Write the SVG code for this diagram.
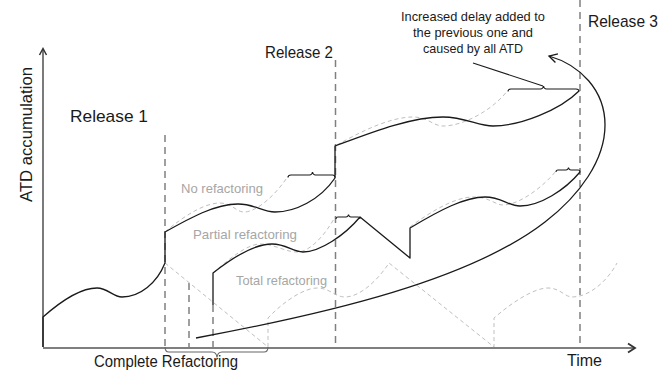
<svg xmlns="http://www.w3.org/2000/svg" width="671" height="371" viewBox="0 0 671 371">
  <style>
    .lbl { font-family: "Liberation Sans", "Open Sans", sans-serif; fill: #1a1a1a; }
    .big { font-size: 17px; }
    .note { font-size: 13.5px; text-anchor: middle; }
    .phase { font-size: 13px; fill: #a6a6a6; }
    .rel { fill: none; stroke: #808080; stroke-width: 1.5; stroke-dasharray: 7 5; }
    .plan { fill: none; stroke: #bfbfbf; stroke-width: 1; stroke-dasharray: 4 3; }
    .real { fill: none; stroke: #1a1a1a; stroke-width: 1.3; stroke-linejoin: round; }
    .brace { fill: none; stroke: #1a1a1a; stroke-width: 1.1; }
  </style>
  <defs>
    <marker id="openHead" markerWidth="14" markerHeight="14" refX="10" refY="6" orient="auto" markerUnits="userSpaceOnUse">
      <path d="M2,1.5 L10,6 L2,10.5" fill="none" stroke="#1a1a1a" stroke-width="1.3"/>
    </marker>
  </defs>

  <rect width="671" height="371" fill="#ffffff"/>

  <!-- axes -->
  <g id="axes">
    <line x1="43" y1="347" x2="43" y2="49" stroke="#333333" stroke-width="1.3"/>
    <path d="M39.5,55 L43,48.5 L46.5,55" fill="none" stroke="#333333" stroke-width="1.5"/>
    <line x1="43" y1="348" x2="634" y2="348" stroke="#7f7f7f" stroke-width="2"/>
    <path d="M628,343.5 L635,348 L628,352.5" fill="none" stroke="#333333" stroke-width="1.8"/>
    <text class="lbl big" transform="translate(32,134.5) rotate(-90)" text-anchor="middle" textLength="135" lengthAdjust="spacingAndGlyphs">ATD accumulation</text>
    <text class="lbl" x="567" y="366" font-size="16" textLength="35" lengthAdjust="spacingAndGlyphs">Time</text>
  </g>

  <!-- release markers -->
  <g id="release1">
    <line class="rel" x1="165" y1="135" x2="165" y2="347"/>
    <text class="lbl big" x="70" y="122" textLength="78" lengthAdjust="spacingAndGlyphs">Release 1</text>
  </g>
  <g id="release2">
    <line class="rel" x1="335.5" y1="60" x2="335.5" y2="347"/>
    <text class="lbl big" x="265" y="58" textLength="68" lengthAdjust="spacingAndGlyphs">Release 2</text>
  </g>
  <g id="release3">
    <line class="rel" x1="580" y1="0" x2="580" y2="347"/>
    <text class="lbl big" x="588" y="27" textLength="70" lengthAdjust="spacingAndGlyphs">Release 3</text>
  </g>

  <!-- refactoring stops -->
  <g id="refactor-marks">
    <line class="rel" x1="189" y1="283" x2="189" y2="347"/>
    <line class="rel" x1="213" y1="305" x2="213" y2="347"/>
  </g>

  <!-- planned (dashed) trajectories -->
  <g id="planned">
    <path class="plan" d="M165,232 C185,215 205,203 220,203 C232,203 236,212 244,212 C258,212 278,192 288,176"/>
    <path class="plan" d="M337,145 C360,132 390,117 413,117 C428,117 433,126 443,126 C465,126 495,108 508,90"/>
    <path class="plan" d="M213,273 C230,258 248,244 260,244 C275,244 285,252 297,252 C312,252 328,230 335,217"/>
    <path class="plan" d="M410,227 C430,212 455,197 473,197 C490,197 495,205 503,205 C520,205 545,185 556,171"/>
    <path class="plan" d="M165,263 L268,347 L268,318 C285,300 305,288 317,288 C330,288 335,297 345,297 C360,297 378,280 389,263 L494,347 L494,318 C515,300 535,288 548,288 C560,288 565,297 572,297 C590,297 608,280 617,263"/>
  </g>

  <!-- actual trajectories -->
  <g id="no-refactoring">
    <path class="real" d="M43,347 V317 C60,302 80,288 97,288 C108,288 113,297 122,297 C140,297 157,283 165,263 V232 C190,218 215,204 238,204 C255,204 262,212 275,212 C295,212 320,200 335,178 V146 C370,133 410,117 443,117 C465,117 478,126 493,126 C520,126 560,110 579,91"/>
    <text class="lbl phase" x="181" y="193" textLength="82" lengthAdjust="spacingAndGlyphs">No refactoring</text>
  </g>
  <g id="partial-refactoring">
    <path class="real" d="M213,305 V273 C232,258 255,244 272,244 C287,244 292,252 303,252 C320,252 345,235 360,217 L410,258 V228 C440,210 465,197 485,197 C502,197 508,206 520,206 C540,206 565,190 580,172"/>
    <text class="lbl phase" x="193" y="239" textLength="104" lengthAdjust="spacingAndGlyphs">Partial refactoring</text>
  </g>
  <g id="total-refactoring">
    <text class="lbl phase" x="236" y="285" textLength="91" lengthAdjust="spacingAndGlyphs">Total refactoring</text>
  </g>

  <!-- delay braces -->
  <g id="delay-braces">
    <path class="brace" d="M288,177.5 Q288,175 291,175 L309.5,175 Q312,175 312.5,172 Q313,175 315.5,175 L332.5,175 Q335,175 335,177.5"/>
    <path class="brace" d="M508,91.5 Q508,89 511,89 L540.5,89 Q543,89 543.5,86 Q544,89 546.5,89 L576,89 Q579,89 579,91.5"/>
    <path class="brace" d="M336,219 Q336,217 338,217 L346,217 Q348,217 348.5,214.5 Q349,217 351,217 L358,217 Q360,217 360,219"/>
    <path class="brace" d="M556,172 Q556,170 558,170 L566,170 Q568,170 568.5,167.5 Q569,170 571,170 L578,170 Q580,170 580,172"/>
  </g>

  <g id="complete-refactoring">
    <path d="M165,347 Q165,352 169,352 L212,352 Q216.5,352 217,357.5 Q217.5,352 222,352 L264,352 Q268,352 268,347" fill="none" stroke="#666666" stroke-width="1.1"/>
    <text class="lbl" x="94" y="366.5" font-size="16" textLength="144" lengthAdjust="spacingAndGlyphs">Complete Refactoring</text>
  </g>

  <!-- annotation -->
  <g id="annotation">
    <text class="lbl note" x="473" y="21" textLength="144" lengthAdjust="spacingAndGlyphs">Increased delay added to</text>
    <text class="lbl note" x="473" y="37" textLength="120" lengthAdjust="spacingAndGlyphs">the previous one and</text>
    <text class="lbl note" x="473" y="53" textLength="100" lengthAdjust="spacingAndGlyphs">caused by all ATD</text>
  </g>

  <!-- connectors -->
  <g id="connectors">
    <line x1="473" y1="63" x2="543" y2="86" stroke="#1a1a1a" stroke-width="1.1"/>
    <path class="real" d="M196,338 C330,313 470,280 545,222 C580,195 605,160 605,125 C605,90 580,65 549,56" marker-end="url(#openHead)"/>
  </g>
</svg>
